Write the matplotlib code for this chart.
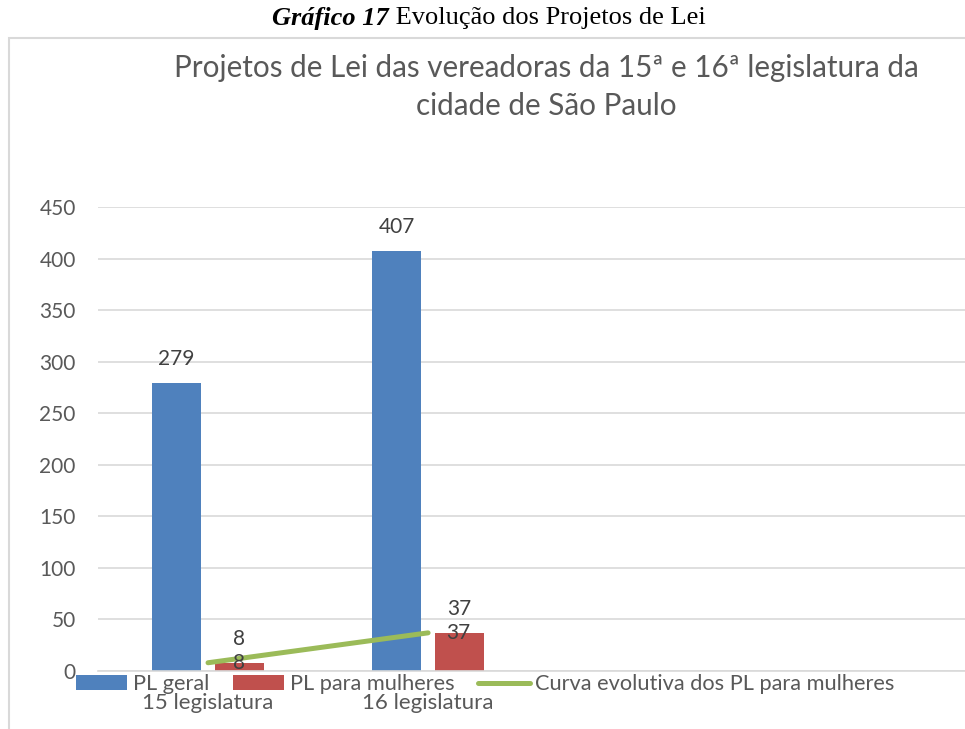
import matplotlib.pyplot as plt
import numpy as np
from matplotlib.patches import Rectangle

categories = ["15 legislatura", "16 legislatura"]
pl_geral = [279, 407]
pl_mulheres = [8, 37]
y_ticks = [0, 50, 100, 150, 200, 250, 300, 350, 400, 450]

BLUE = "#4F81BD"
RED = "#C0504D"
GREEN = "#9BBB59"
GRID = "#D9D9D9"
TXT = "#595959"
LBL = "#404040"

plt.rcParams["font.family"] = ["Lato", "DejaVu Sans"]

W, H = 965, 729
fig = plt.figure(figsize=(W / 100, H / 100), dpi=100)

# moldura do gráfico (cortada à direita e em baixo)
fig.add_artist(Rectangle((9 / W, -0.1), 1.2, 1.1 - 38 / H,
                         transform=fig.transFigure, fill=False,
                         edgecolor=GRID, linewidth=1.5))

ax = fig.add_axes([98 / W, 1 - 671 / H, 1 - 98 / W, (671 - 207) / H])

x = np.arange(len(categories))
width = 0.223
off = 0.143

b1 = ax.bar(x - off, pl_geral, width, color=BLUE, label="PL geral", zorder=2)
b2 = ax.bar(x + off, pl_mulheres, width, color=RED, label="PL para mulheres", zorder=2)
ln, = ax.plot(x, pl_mulheres, color=GREEN, linewidth=3.6, solid_capstyle="round",
              label="Curva evolutiva dos PL para mulheres", zorder=3)

for bars, vals in [(b1, pl_geral), (b2, pl_mulheres)]:
    for rect, v in zip(bars, vals):
        ax.annotate(str(v), (rect.get_x() + rect.get_width() / 2, v),
                    xytext=(0, 13), textcoords="offset points",
                    ha="center", va="baseline", fontsize=15, color=LBL)

for xi, v in zip(x, pl_mulheres):
    ax.annotate(str(v), (xi, v), xytext=(22, 0), textcoords="offset points",
                ha="center", va="center", fontsize=15, color=LBL, zorder=4)

ax.set_xlim(-0.5, 3.44)
ax.set_ylim(0, 450)
ax.set_yticks(y_ticks)
ax.set_xticks(x)
ax.set_xticklabels(categories)
ax.tick_params(axis="both", length=0, labelsize=15, labelcolor=TXT)
ax.tick_params(axis="x", labelsize=16, pad=16)
ax.tick_params(axis="y", pad=16)
ax.yaxis.grid(True, color=GRID, linewidth=1.2, zorder=0)
ax.set_axisbelow(True)
for s in ["top", "right", "left"]:
    ax.spines[s].set_visible(False)
ax.spines["bottom"].set_color(GRID)
ax.spines["bottom"].set_linewidth(1.2)

ax.legend(handles=[b1, b2, ln], loc="center left",
          bbox_to_anchor=(76 / W, 1 - 684 / H), bbox_transform=fig.transFigure,
          ncol=3, frameon=False, fontsize=15.7, labelcolor=TXT,
          borderpad=0, borderaxespad=0, handlelength=2.35, handleheight=0.65,
          handletextpad=0.25, columnspacing=1.1)

fig.text(546 / W, 1 - 87 / H,
         "Projetos de Lei das vereadoras da 15ª e 16ª legislatura da\ncidade de São Paulo",
         ha="center", va="center", fontsize=21.3, color=TXT, linespacing=1.4)

# legenda da figura (estilo Word)
fig.text(389 / W, 1 - 18 / H, "Gráfico 17", ha="right", va="center",
         fontsize=19, fontweight="bold", fontstyle="italic",
         family="Liberation Serif")
fig.text(389 / W, 1 - 18 / H, " Evolução dos Projetos de Lei", ha="left", va="center",
         fontsize=19, family="Liberation Serif")

fig.savefig("out.png", dpi=100)
